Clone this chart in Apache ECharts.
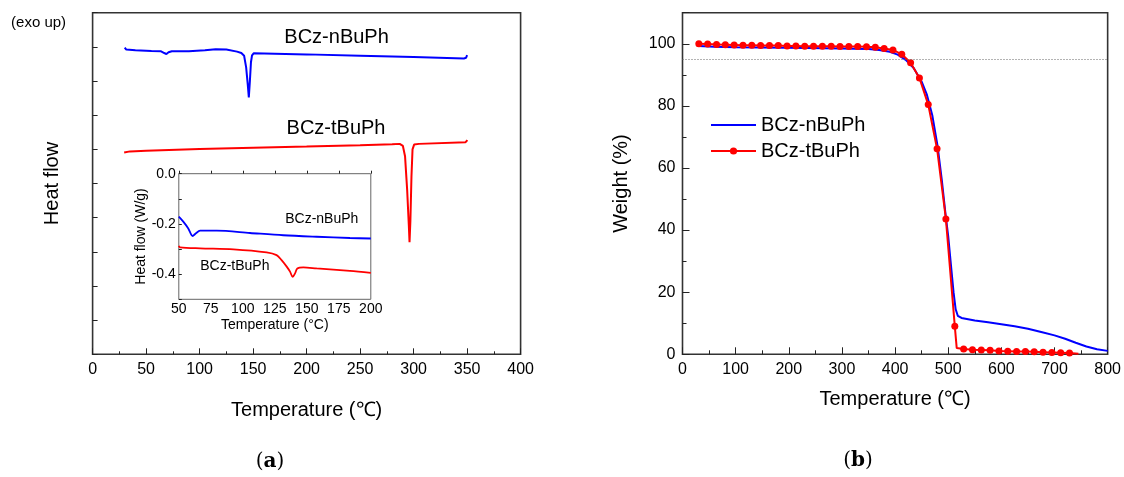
<!DOCTYPE html>
<html>
<head>
<meta charset="utf-8">
<script src="https://cdn.jsdelivr.net/npm/echarts@6.0.0/dist/echarts.min.js"></script>
<style>
html, body { margin: 0; padding: 0; background: #fff; }
#chart { width: 1124px; height: 477px; }
</style>
</head>
<body>
<div id="chart"></div>
<script>
// (a) DSC, main plot: temperature (°C), heat flow (arbitrary units, 0-10 scale, labels hidden)
var dscN = [[30, 8.98], [31.5, 8.92], [40, 8.90], [55, 8.88], [64, 8.87], [67, 8.82], [69, 8.79], [71, 8.84],
	[74, 8.87], [90, 8.87], [105, 8.90], [115, 8.93], [125, 8.92], [135, 8.86], [139, 8.82], [141.6, 8.74],
	[143.5, 8.40], [145, 7.90], [146, 7.52], [147, 8.00], [148, 8.55], [149, 8.75], [150.5, 8.81], [200, 8.78],
	[250, 8.74], [300, 8.70], [347, 8.66], [349, 8.68], [350, 8.76]];
var dscT = [[29.5, 5.91], [35, 5.94], [50, 5.96], [100, 6.01], [150, 6.05], [200, 6.08], [250, 6.12], [280, 6.15],
	[287, 6.16], [290, 6.10], [292, 5.80], [294, 4.80], [295.5, 3.80], [296.2, 3.28], [297, 3.90], [298, 5.20],
	[299, 6.00], [300.5, 6.14], [305, 6.16], [348.6, 6.21], [350.3, 6.27]];

// (a) inset: temperature (°C), heat flow (W/g)
var insetN = [[50, -0.171], [53.5, -0.191], [57.4, -0.218], [60.8, -0.248], [63.4, -0.237], [66.6, -0.227],
	[79.6, -0.227], [105.6, -0.236], [131.6, -0.245], [157.7, -0.251], [183.7, -0.256], [200, -0.258]];
var insetT = [[50, -0.287], [51, -0.293], [66.6, -0.297], [92.7, -0.301], [118.6, -0.313], [126.4, -0.324],
	[130.3, -0.344], [134.3, -0.370], [136.9, -0.390], [139, -0.411], [140.8, -0.397], [142.6, -0.377],
	[147.3, -0.373], [157.7, -0.377], [183.7, -0.387], [200, -0.395]];

// (b) TGA: temperature (°C), weight (%)
var tgaN = [[30, 99.3], [60, 99.0], [100, 98.9], [200, 98.7], [300, 98.5], [350, 98.3], [370, 98.0], [390, 97.4],
	[405, 96.5], [420, 94.8], [435, 92.2], [450, 87.8], [460, 83.5], [470, 77.0], [480, 67.0], [488, 56.0],
	[495, 45.0], [500, 38.0], [505, 29.0], [510, 20.0], [514, 14.5], [518, 12.4], [525, 11.7], [550, 10.9],
	[575, 10.3], [600, 9.7], [625, 9.0], [650, 8.2], [675, 7.2], [700, 6.1], [720, 5.0], [740, 3.7],
	[760, 2.5], [780, 1.6], [800, 1.1]];
var tgaTMarkers = [[30.7, 100.0], [47.3, 99.9], [64.0, 99.8], [80.6, 99.7], [97.2, 99.6], [113.8, 99.5],
	[130.4, 99.5], [147.0, 99.45], [163.6, 99.4], [180.2, 99.4], [196.8, 99.3], [213.4, 99.25], [230.0, 99.2],
	[246.6, 99.2], [263.2, 99.2], [279.8, 99.2], [296.4, 99.15], [313.0, 99.1], [329.6, 99.1], [346.2, 99.0],
	[362.8, 98.9], [379.4, 98.5], [396.0, 98.0], [412.6, 96.6], [429.2, 93.9], [445.8, 89.0], [462.4, 80.4],
	[479.0, 66.2], [495.6, 43.6], [512.4, 9.0], [529.0, 1.7], [545.6, 1.5], [562.2, 1.4], [578.8, 1.3],
	[595.4, 1.1], [612.0, 1.0], [628.6, 0.9], [645.2, 0.9], [661.8, 0.8], [678.4, 0.7], [695.0, 0.6],
	[711.6, 0.5], [728.2, 0.4]];
var tgaTLine = [[516, 2.0], [745, 0.2]];   // line only, no marker
var t5Level = 95;

var seriesNames = ['BCz-nBuPh', 'BCz-tBuPh'];
var dscLabels = [[228, 9.26], [227.5, 6.62]];
var insetLabels = [[161.7, -0.182], [93.8, -0.367]];

var FONT = 'Liberation Sans, Arial, sans-serif';
var BLUE = '#0000ff', RED = '#ff0000';

var chart = echarts.init(document.getElementById('chart'));

//红线: 带点和不带点的数据合并
var tgaTData = [];
for (var i = 0; i < tgaTMarkers.length; i++) tgaTData.push({ value: tgaTMarkers[i] });
for (var i = 0; i < tgaTLine.length; i++) tgaTData.push({ value: tgaTLine[i], symbol: 'none' });
tgaTData.sort(function (a, b) { return a.value[0] - b.value[0]; });

function labelItems(pts) {
	var out = [];
	for (var i = 0; i < pts.length; i++) out.push({ value: pts[i], name: seriesNames[i] });
	return out;
}

var tickStyle = { color: '#222', width: 1 };
var lbl = function (size, margin) {
	return { color: '#000', fontFamily: FONT, fontSize: size, margin: margin };
};

option = {
	animation: false,
	backgroundColor: '#fff',
	grid: [
		{ left: 92.6, top: 12.7, width: 428, height: 341.6, show: true, borderColor: '#333', borderWidth: 1.6 },
		{ left: 178.8, top: 173.7, width: 192, height: 125.6, show: true, borderColor: '#666', borderWidth: 1, backgroundColor: '#fff' },
		{ left: 682.5, top: 12.7, width: 428, height: 341.6, show: true, borderColor: '#333', borderWidth: 1.6 }
	],
	legend: {
		data: [
			{ name: seriesNames[0], icon: 'path://M0,0H45V2H0Z' },
			{ name: seriesNames[1] }
		],
		orient: 'vertical',
		left: 710, top: 115,
		padding: 0,
		itemWidth: 45, itemHeight: 9, itemGap: 6,
		textStyle: { color: '#000', fontFamily: FONT, fontSize: 20 }
	},
	xAxis: [
		{
			gridIndex: 0, type: 'value', min: 0, max: 400, interval: 50,
			axisLine: { show: false },
			axisTick: { inside: true, length: 6, lineStyle: tickStyle },
			minorTick: { show: true, splitNumber: 2, length: 3, lineStyle: tickStyle },
			splitLine: { show: false },
			axisLabel: lbl(16, 7),
			name: 'Temperature (℃)', nameLocation: 'middle', nameGap: 46,
			nameTextStyle: { color: '#000', fontFamily: FONT, fontSize: 20 }
		},
		{
			gridIndex: 1, type: 'value', min: 50, max: 200, interval: 25,
			axisLine: { show: false },
			axisTick: { inside: true, length: 3, lineStyle: tickStyle },
			splitLine: { show: false },
			axisLabel: lbl(14, 3),
			name: 'Temperature (°C)', nameLocation: 'middle', nameGap: 19,
			nameTextStyle: { color: '#000', fontFamily: FONT, fontSize: 14 }
		},
		{
			gridIndex: 2, type: 'value', min: 0, max: 800, interval: 100,
			axisLine: { show: false },
			axisTick: { inside: true, length: 7, lineStyle: tickStyle },
			minorTick: { show: true, splitNumber: 2, length: 4, lineStyle: tickStyle },
			splitLine: { show: false },
			axisLabel: lbl(16, 7),
			name: 'Temperature (℃)', nameLocation: 'middle', nameGap: 35,
			nameTextStyle: { color: '#000', fontFamily: FONT, fontSize: 20 }
		}
	],
	yAxis: [
		{
			gridIndex: 0, type: 'value', min: 0, max: 10, interval: 1,
			axisLine: { show: false },
			axisTick: { inside: true, length: 5, lineStyle: tickStyle },
			splitLine: { show: false },
			axisLabel: { show: false },
			name: 'Heat flow', nameLocation: 'middle', nameGap: 30, nameRotate: 90,
			nameTextStyle: { color: '#000', fontFamily: FONT, fontSize: 20 }
		},
		{
			gridIndex: 1, type: 'value', min: -0.5, max: 0, interval: 0.1,
			axisLine: { show: false },
			axisTick: { inside: true, length: 3, lineStyle: tickStyle },
			splitLine: { show: false },
			axisLabel: {
				color: '#000', fontFamily: FONT, fontSize: 14, margin: 3,
				formatter: function (v) { return Math.round(v * 10) % 2 === 0 ? v.toFixed(1) : ''; }
			},
			name: 'Heat flow (W/g)', nameLocation: 'middle', nameGap: 30, nameRotate: 90,
			nameTextStyle: { color: '#000', fontFamily: FONT, fontSize: 14 }
		},
		{
			gridIndex: 2, type: 'value', min: 0, max: 110, interval: 20,
			axisLine: { show: false },
			axisTick: { inside: true, length: 7, lineStyle: tickStyle },
			splitLine: { show: false },
			axisLabel: {
				color: '#000', fontFamily: FONT, fontSize: 16, margin: 7,
				formatter: function (v) { return v % 20 === 0 ? v : ''; }
			},
			name: 'Weight (%)', nameLocation: 'middle', nameGap: 51, nameRotate: 90,
			nameTextStyle: { color: '#000', fontFamily: FONT, fontSize: 20 }
		},
		{
			// 次刻度
			gridIndex: 2, type: 'value', min: 0, max: 110, interval: 10, position: 'left',
			axisLine: { show: false },
			axisTick: { inside: true, length: 4, lineStyle: tickStyle },
			splitLine: { show: false },
			axisLabel: { show: false }
		}
	],
	series: [
		{
			name: 'BCz-nBuPh', type: 'line', xAxisIndex: 2, yAxisIndex: 2, data: tgaN,
			symbol: 'none', lineStyle: { color: BLUE, width: 2 }, itemStyle: { color: BLUE },
			markLine: {
				silent: true, symbol: 'none', label: { show: false },
				lineStyle: { type: [1, 2], color: '#666', width: 1 },
				data: [{ yAxis: t5Level }]
			}
		},
		{
			name: 'BCz-tBuPh', type: 'line', xAxisIndex: 2, yAxisIndex: 2, data: tgaTData,
			symbol: 'circle', symbolSize: 7, showAllSymbol: true,
			lineStyle: { color: RED, width: 2 }, itemStyle: { color: RED }
		},
		{
			name: 'dsc-n', type: 'line', xAxisIndex: 0, yAxisIndex: 0, data: dscN,
			symbol: 'none', lineStyle: { color: BLUE, width: 2 }
		},
		{
			name: 'dsc-t', type: 'line', xAxisIndex: 0, yAxisIndex: 0, data: dscT,
			symbol: 'none', lineStyle: { color: RED, width: 2 }
		},
		{
			name: 'inset-n', type: 'line', xAxisIndex: 1, yAxisIndex: 1, data: insetN, z: 5,
			symbol: 'none', smooth: 0.3, lineStyle: { color: BLUE, width: 1.8 }
		},
		{
			name: 'inset-t', type: 'line', xAxisIndex: 1, yAxisIndex: 1, data: insetT, z: 5,
			symbol: 'none', smooth: 0.3, lineStyle: { color: RED, width: 1.8 }
		},
		{
			name: 'dsc-labels', type: 'scatter', xAxisIndex: 0, yAxisIndex: 0, silent: true,
			data: labelItems(dscLabels), symbolSize: 1, itemStyle: { color: 'transparent' },
			label: { show: true, position: 'inside', formatter: '{b}', color: '#000', textBorderWidth: 0, opacity: 1, fontFamily: FONT, fontSize: 20 }
		},
		{
			name: 'inset-labels', type: 'scatter', xAxisIndex: 1, yAxisIndex: 1, silent: true, z: 6,
			data: labelItems(insetLabels), symbolSize: 1, itemStyle: { color: 'transparent' },
			label: { show: true, position: 'inside', formatter: '{b}', color: '#000', textBorderWidth: 0, opacity: 1, fontFamily: FONT, fontSize: 14 }
		}
	],
	graphic: [
		{
			type: 'text', x: 38.6, y: 23, silent: true,
			style: { text: '(exo up)', fill: '#000', font: '15px ' + FONT, textAlign: 'center', textVerticalAlign: 'middle' }
		},
		{
			type: 'text', x: 270, y: 462, silent: true,
			style: {
				text: '{p|(}{b|a}{p|)}', textAlign: 'center', textVerticalAlign: 'middle',
				rich: {
					p: { fontFamily: 'DejaVu Serif', fontSize: 20, fill: '#000' },
					b: { fontFamily: 'DejaVu Serif', fontSize: 20, fontWeight: 'bold', fill: '#000' }
				}
			}
		},
		{
			type: 'text', x: 858, y: 461, silent: true,
			style: {
				text: '{p|(}{b|b}{p|)}', textAlign: 'center', textVerticalAlign: 'middle',
				rich: {
					p: { fontFamily: 'DejaVu Serif', fontSize: 20, fill: '#000' },
					b: { fontFamily: 'DejaVu Serif', fontSize: 20, fontWeight: 'bold', fill: '#000' }
				}
			}
		}
	]
};
chart.setOption(option);
</script>
</body>
</html>
